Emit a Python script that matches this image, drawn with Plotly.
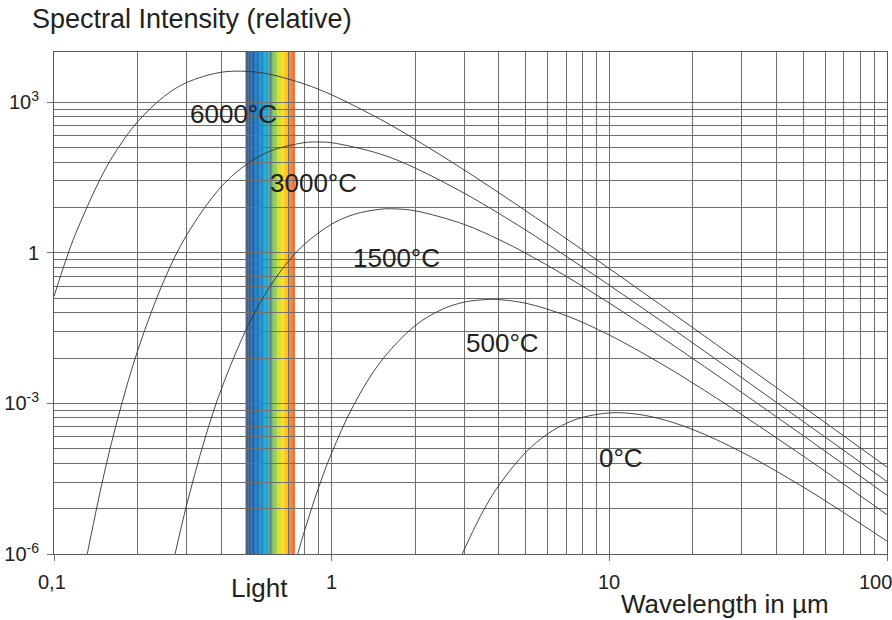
import math
import plotly.graph_objects as go

# Relative spectral intensity of a black body
wl_6000 = [0.1, 0.11, 0.12, 0.15, 0.17, 0.2, 0.25, 0.3, 0.4, 0.5, 0.6, 0.8, 1, 1.5, 2, 3, 4, 5, 7, 10, 15, 20, 30, 50, 70, 100]
int_6000 = [0.136, 0.682, 2.51, 37.6, 121, 408, 1320, 2460, 3950, 4100, 3590, 2290, 1400, 454, 181, 44.7,
            15.7, 6.86, 1.91, 0.484, 0.0994, 0.0321, 0.00646, 8.5e-4, 2.23e-4, 5.37e-5]

wl_3000 = [0.13, 0.15, 0.17, 0.2, 0.25, 0.3, 0.4, 0.5, 0.6, 0.8, 0.9, 1, 1.5, 2, 3, 4, 5, 7, 10, 15, 20, 30, 50, 70, 100]
int_3000 = [6.9e-7, 3.08e-5, 5.17e-4, 0.0111, 0.295, 2.22, 20.6, 60.7, 106, 157, 161, 156, 92.6, 48.7, 15.4,
            6.08, 2.83, 0.849, 0.226, 0.0482, 0.0159, 0.00325, 4.34e-4, 1.15e-4, 2.77e-5]

wl_1500 = [0.27, 0.3, 0.35, 0.4, 0.5, 0.6, 0.7, 0.8, 1, 1.2, 1.5, 1.7, 2, 3, 4, 5, 7, 10, 15, 20, 30, 50, 70, 100]
int_1500 = [7.7e-7, 9.19e-6, 2.03e-4, 1.89e-3, 0.0357, 0.215, 0.685, 1.50, 3.73, 5.80, 7.38, 7.49, 6.86, 3.68,
            1.84, 0.981, 0.339, 0.0996, 0.0229, 0.00779, 0.00165, 2.26e-4, 6.03e-5, 1.48e-5]

wl_500 = [0.75, 0.8, 0.9, 1, 1.2, 1.5, 2, 2.5, 3, 3.7, 4, 5, 7, 10, 15, 20, 30, 50, 70, 100]
int_500 = [8.8e-7, 3.0e-6, 2.21e-5, 1.03e-4, 9.22e-4, 0.00672, 0.0355, 0.0747, 0.104, 0.118, 0.117, 0.0989,
           0.0559, 0.0230, 0.00668, 0.00254, 5.97e-4, 8.85e-5, 2.44e-5, 6.09e-6]

wl_0 = [2.9, 3, 3.5, 4, 5, 6, 7, 8, 10, 12, 15, 20, 30, 50, 70, 100]
int_0 = [7.9e-7, 1.22e-6, 6.91e-6, 2.33e-5, 1.06e-4, 2.47e-4, 4.0e-4, 5.26e-4, 6.46e-4, 6.29e-4, 5.05e-4,
         3.01e-4, 1.07e-4, 2.14e-5, 6.61e-6, 1.80e-6]

curve_labels = ["6000°C", "3000°C", "1500°C", "500°C", "0°C"]

# Visible light band (µm) and its colour ramp
light_band = [0.49, 0.736]
light_colors = [(0.00, "#163c7c"), (0.06, "#0b4f9e"), (0.18, "#0662b2"), (0.33, "#0a82c6"),
                (0.43, "#12a0c4"), (0.50, "#18a898"), (0.55, "#5cb85a"), (0.62, "#a2cc38"),
                (0.70, "#dcdf18"), (0.77, "#ffd800"), (0.84, "#ffae10"), (0.90, "#f88a1c"),
                (0.93, "#f06a22"), (1.00, "#ee6422")]

x_ticks = [0.1, 1, 10, 100]
x_ticktext = ["0,1", "1", "10", "100"]
y_ticks = [1e-6, 1e-3, 1, 1e3]
y_ticktext = ["10<sup>-6</sup>", "10<sup>-3</sup>", "1", "10<sup>3</sup>"]

FONT = "Liberation Sans, Arial, sans-serif"
INK = "#222222"
GRID = "#6e6e6e"


def hex_rgb(h):
    h = h.lstrip("#")
    return tuple(int(h[i:i + 2], 16) for i in (0, 2, 4))


def ramp(t):
    for (t0, c0), (t1, c1) in zip(light_colors[:-1], light_colors[1:]):
        if t0 <= t <= t1:
            f = 0 if t1 == t0 else (t - t0) / (t1 - t0)
            a, b = hex_rgb(c0), hex_rgb(c1)
            return "rgb(%d,%d,%d)" % tuple(round(a[i] + (b[i] - a[i]) * f) for i in range(3))
    return light_colors[-1][1]


fig = go.Figure()

series = [(wl_6000, int_6000), (wl_3000, int_3000), (wl_1500, int_1500), (wl_500, int_500), (wl_0, int_0)]
for (wl, val), name in zip(series, curve_labels):
    fig.add_trace(go.Scatter(x=wl, y=val, mode="lines", name=name,
                             line=dict(color="#333333", width=0.9, shape="spline", smoothing=1.0),
                             showlegend=False, hoverinfo="x+y+name"))

# colour band built from narrow strips, laid under the grid
n_strips = 60
lo, hi = math.log10(light_band[0]), math.log10(light_band[1])
shapes = []
for i in range(n_strips):
    a = lo + (hi - lo) * i / n_strips
    b = lo + (hi - lo) * (i + 1) / n_strips
    shapes.append(dict(type="rect", xref="x", yref="paper", x0=10 ** a, x1=10 ** (b + 0.0005),
                       y0=0, y1=1, fillcolor=ramp((i + 0.5) / n_strips), line=dict(width=0),
                       layer="below"))

x_minor = [k * d for d in (0.1, 1, 10) for k in range(2, 10)]
# three-decade cycles on the intensity axis, sub-divided like log paper
y_minor = [k ** 3 * d for d in (1e-6, 1e-3, 1) for k in range(2, 10)]

annotations = []
label_pos = [(0.314, 589), (0.609, 24.8), (1.21, 0.794), (3.11, 0.0161), (9.34, 8.2e-5)]
for text, (lx, ly) in zip(curve_labels, label_pos):
    annotations.append(dict(x=math.log10(lx), y=math.log10(ly), xref="x", yref="y", text=text,
                            showarrow=False, xanchor="left", yanchor="middle", xshift=-4,
                            font=dict(family=FONT, size=26, color=INK)))

for v, t in zip(x_ticks, x_ticktext):
    last = v == x_ticks[-1]
    annotations.append(dict(x=math.log10(v), y=0, xref="x", yref="paper", text=t, showarrow=False,
                            xanchor="right" if last else "center", yanchor="middle",
                            xshift=7 if last else (-2 if v == x_ticks[0] else 0), yshift=-28,
                            font=dict(family=FONT, size=20, color=INK)))

annotations += [
    dict(x=0, y=1, xref="paper", yref="paper", xanchor="left", yanchor="middle", xshift=-24, yshift=33,
         text="Spectral Intensity (relative)", showarrow=False, font=dict(family=FONT, size=27, color=INK)),
    dict(x=math.log10(0.55), y=0, xref="x", yref="paper", xanchor="center", yanchor="middle", yshift=-34,
         text="Light", showarrow=False, font=dict(family=FONT, size=26, color=INK)),
    dict(x=math.log10(26), y=0, xref="x", yref="paper", xanchor="center", yanchor="middle", yshift=-50,
         text="Wavelength in µm", showarrow=False, font=dict(family=FONT, size=26, color=INK)),
]

fig.update_layout(
    width=892, height=620,
    margin=dict(l=52, r=4, t=52, b=66),
    paper_bgcolor="white", plot_bgcolor="white",
    shapes=shapes, annotations=annotations,
    font=dict(family=FONT, color=INK),
)

fig.update_xaxes(type="log", range=[-1, 2], tickvals=x_ticks, showticklabels=False,
                 ticks="outside", ticklen=6, tickcolor=GRID,
                 showgrid=True, gridcolor=GRID, gridwidth=1,
                 minor=dict(tickvals=x_minor, showgrid=True, gridcolor=GRID, gridwidth=1, ticks=""),
                 showline=True, linecolor="#5a5a5a", linewidth=1, mirror=True, zeroline=False)

fig.update_yaxes(type="log", range=[-6, 4], tickvals=y_ticks, ticktext=y_ticktext,
                 ticks="outside", ticklen=6, tickcolor=GRID, ticklabelstandoff=4,
                 tickfont=dict(family=FONT, size=20, color=INK),
                 showgrid=True, gridcolor=GRID, gridwidth=1,
                 minor=dict(tickvals=y_minor, showgrid=True, gridcolor=GRID, gridwidth=1, ticks=""),
                 showline=True, linecolor="#5a5a5a", linewidth=1, mirror=True, zeroline=False)

fig.write_html("out.html")
